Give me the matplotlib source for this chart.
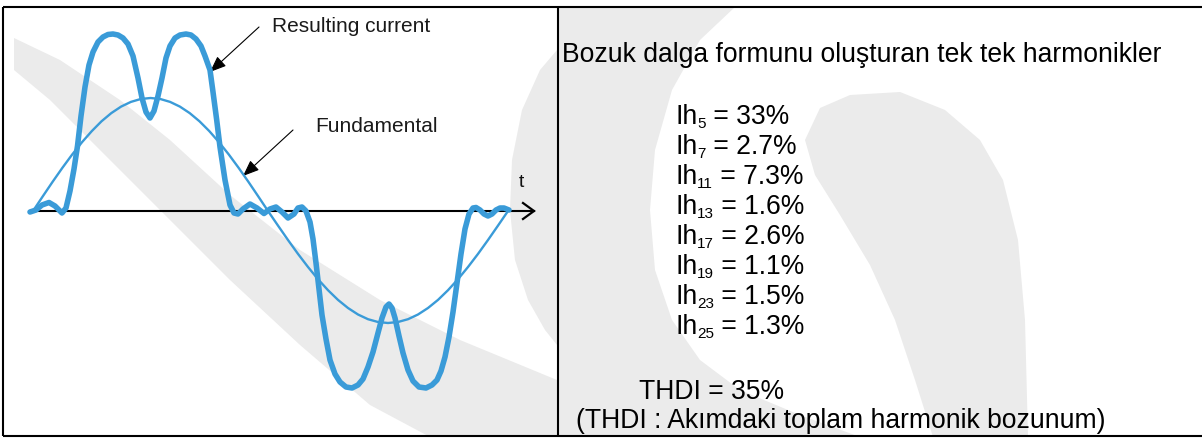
import matplotlib
matplotlib.use("Agg")
import matplotlib.pyplot as plt
from matplotlib.patches import Polygon

# ---------------- data ----------------
# time axis in px-like units, amplitude relative to the t axis
t_fund = [33, 42.8, 52.6, 62.4, 72.2, 82.0, 91.8, 101.5, 111.3, 121.1, 130.9, 140.7,
          150.5, 160.3, 170.1, 179.9, 189.7, 199.5, 209.3, 219.0, 228.8, 238.6, 248.4,
          258.2, 268, 278, 288, 298, 308, 318, 328, 338, 348, 358, 368, 378, 388, 398,
          408, 418, 428, 438, 448, 458, 468, 478, 488, 498, 508]
i_fund = [0, 14.7, 29.2, 43.2, 56.5, 68.8, 79.9, 89.7, 97.9, 104.4, 109.1, 112.0,
          113, 112.0, 109.1, 104.4, 97.9, 89.7, 79.9, 68.8, 56.5, 43.2, 29.2,
          14.7, 0, -14.6, -29.0, -42.9, -56, -68.2, -79.2, -88.9, -97.0, -103.5, -108.2,
          -111.0, -112, -111.0, -108.2, -103.5, -97.0, -88.9, -79.2, -68.2, -56, -42.9,
          -29.0, -14.6, 0]

t_res = [30, 36, 42, 49, 55, 62, 66, 70, 74, 77.5, 81, 85, 89, 93, 98, 103, 108, 113,
         118, 123, 128, 133, 138, 142, 146, 150, 154, 158, 162, 166, 170, 175, 180, 186,
         191, 196, 201, 205, 210, 213, 216.7, 220, 225, 230, 234, 238, 243, 250, 257,
         264, 270, 276, 282, 288, 294, 298, 302, 306, 310, 313, 316, 319, 322, 326, 330,
         335, 340, 346, 352, 358, 363, 368, 373, 378, 382, 386, 389, 392, 395, 399, 403,
         408, 413, 419, 426, 432, 437, 441, 445, 449, 453, 457, 461, 465, 469, 473, 476,
         480, 484, 488, 492, 496, 500, 504, 509]
i_res = [-1, 1, 6, 8.5, 5, -2, 3, 20, 42, 65, 95, 124, 146, 159, 169, 174, 176.5, 177,
         176, 173, 167, 155, 133, 113, 99, 93, 100, 115, 133, 153, 165, 173, 176, 177,
         176, 172, 165, 155, 141, 119, 91, 64, 31, 6, -2, -3, 2, 7, 3,
         -2.5, 2, 4, -1, -7, -3, 3, 4, 0, -11, -28, -52, -78, -104, -128, -149,
         -163, -171, -176, -177, -174, -168, -156, -141, -122, -107, -96, -93, -97, -107, -125, -142,
         -159, -170, -176, -177, -174, -169, -160, -146, -126, -101, -72, -43, -18, -3, 3, 3.5,
         1, -3, -5, -3, 1, 3, 3, 1]

harm_orders = ["5", "7", "11", "13", "17", "19", "23", "25"]
harm_values = ["33%", "2.7%", "7.3%", "1.6%", "2.6%", "1.1%", "1.5%", "1.3%"]
thdi_text = "THDI = 35%"
title_text = "Bozuk dalga formunu oluşturan tek tek harmonikler"
note_text = "(THDI : Akımdaki toplam harmonik bozunum)"

BLUE = "#3a9bd8"
W, H = 1202, 438
AXIS_Y = 211

plt.rcParams["font.family"] = ["Liberation Sans", "DejaVu Sans"]

fig = plt.figure(figsize=(W / 100, H / 100), dpi=100)
fig.patch.set_facecolor("white")

# background / layout axes in pixel coordinates
bg = fig.add_axes([0, 0, 1, 1])
bg.set_xlim(0, W)
bg.set_ylim(H, 0)
bg.axis("off")

# faint watermark shapes
wm = "#ebebeb"
shapes = [
    [(14, 38), (60, 60), (120, 100), (170, 140), (230, 195), (300, 250), (380, 300),
     (460, 340), (557, 380), (557, 437), (430, 437), (370, 405), (300, 345), (230, 280),
     (160, 210), (100, 150), (50, 100), (14, 70)],
    [(557, 50), (540, 70), (522, 110), (512, 160), (510, 210), (515, 260), (528, 300),
     (545, 330), (557, 345)],
    [(558, 7), (735, 7), (700, 40), (672, 90), (655, 150), (650, 210), (655, 270),
     (672, 320), (700, 360), (740, 390), (800, 415), (860, 437), (558, 437)],
    [(850, 95), (900, 92), (945, 110), (980, 140), (1003, 180), (1018, 240), (1025, 320),
     (1028, 437), (933, 437), (915, 380), (895, 320), (870, 265), (840, 215), (815, 175),
     (805, 140), (820, 108)],
]
for s in shapes:
    bg.add_patch(Polygon(s, closed=True, facecolor=wm, edgecolor="none", zorder=0))

# table borders
lw_b = 1.5
bg.plot([3, W], [7, 7], color="black", lw=lw_b, solid_capstyle="butt", zorder=5)
bg.plot([3, W], [436, 436], color="black", lw=lw_b, solid_capstyle="butt", zorder=5)
bg.plot([3, 3], [7, 436], color="black", lw=lw_b, solid_capstyle="butt", zorder=5)
bg.plot([557.5, 557.5], [7, 436], color="black", lw=lw_b, solid_capstyle="butt", zorder=5)

# time axis with open arrow head
bg.plot([30, 534], [AXIS_Y, AXIS_Y], color="black", lw=1.5, zorder=3)
bg.plot([523, 534, 523], [203, AXIS_Y, 219], color="black", lw=1.6, zorder=3,
        solid_joinstyle="miter")
bg.text(519, 187, "t", fontsize=14, ha="left", va="baseline", color="#111111")

# waveform axes (amplitude measured from the t axis)
wax = fig.add_axes([0, 0, 1, 1])
wax.set_xlim(0, W)
wax.set_ylim(AXIS_Y - H, AXIS_Y)
wax.axis("off")
wax.patch.set_alpha(0)
wax.plot(t_fund, i_fund, color=BLUE, lw=1.7, zorder=4, solid_joinstyle="round")
wax.plot(t_res, i_res, color=BLUE, lw=4.0, zorder=4, solid_joinstyle="round",
         solid_capstyle="round")

# annotations
arrow = dict(arrowstyle="-|>,head_length=0.55,head_width=0.22", color="black",
             lw=0.8, mutation_scale=18, shrinkA=0, shrinkB=0)
bg.annotate("", xy=(210, 72), xytext=(259, 27), arrowprops=arrow, zorder=6)
bg.annotate("", xy=(243, 176), xytext=(293, 130), arrowprops=arrow, zorder=6)
bg.text(272, 31.5, "Resulting current", fontsize=15, ha="left", va="baseline",
        color="#1a1a1a")
bg.text(315, 131.5, "Fundamental", fontsize=15, ha="left", va="baseline",
        color="#1a1a1a")

# right cell text
FS = 19.1
bg.text(562, 62.5, title_text, fontsize=FS, ha="left", va="baseline", color="black")

fig.canvas.draw()
renderer = fig.canvas.get_renderer()
inv = bg.transData.inverted()

x0 = 676
for k, (order, val) in enumerate(zip(harm_orders, harm_values)):
    yb = 124.5 + 30 * k
    t1 = bg.text(x0, yb, "Ih", fontsize=FS, ha="left", va="baseline", color="black")
    bb = t1.get_window_extent(renderer)
    xs = inv.transform((bb.x1, 0))[0] - 1.0
    t2 = bg.text(xs, yb + 4, order, fontsize=11, ha="left", va="baseline", color="black")
    bb2 = t2.get_window_extent(renderer)
    xe = inv.transform((bb2.x1, 0))[0]
    bg.text(xe, yb, " = " + val, fontsize=FS, ha="left", va="baseline", color="black")

bg.text(639, 399, thdi_text, fontsize=FS, ha="left", va="baseline", color="black")
bg.text(576, 428, note_text, fontsize=FS, ha="left", va="baseline", color="black")

fig.savefig("out.png", dpi=100, facecolor="white")
